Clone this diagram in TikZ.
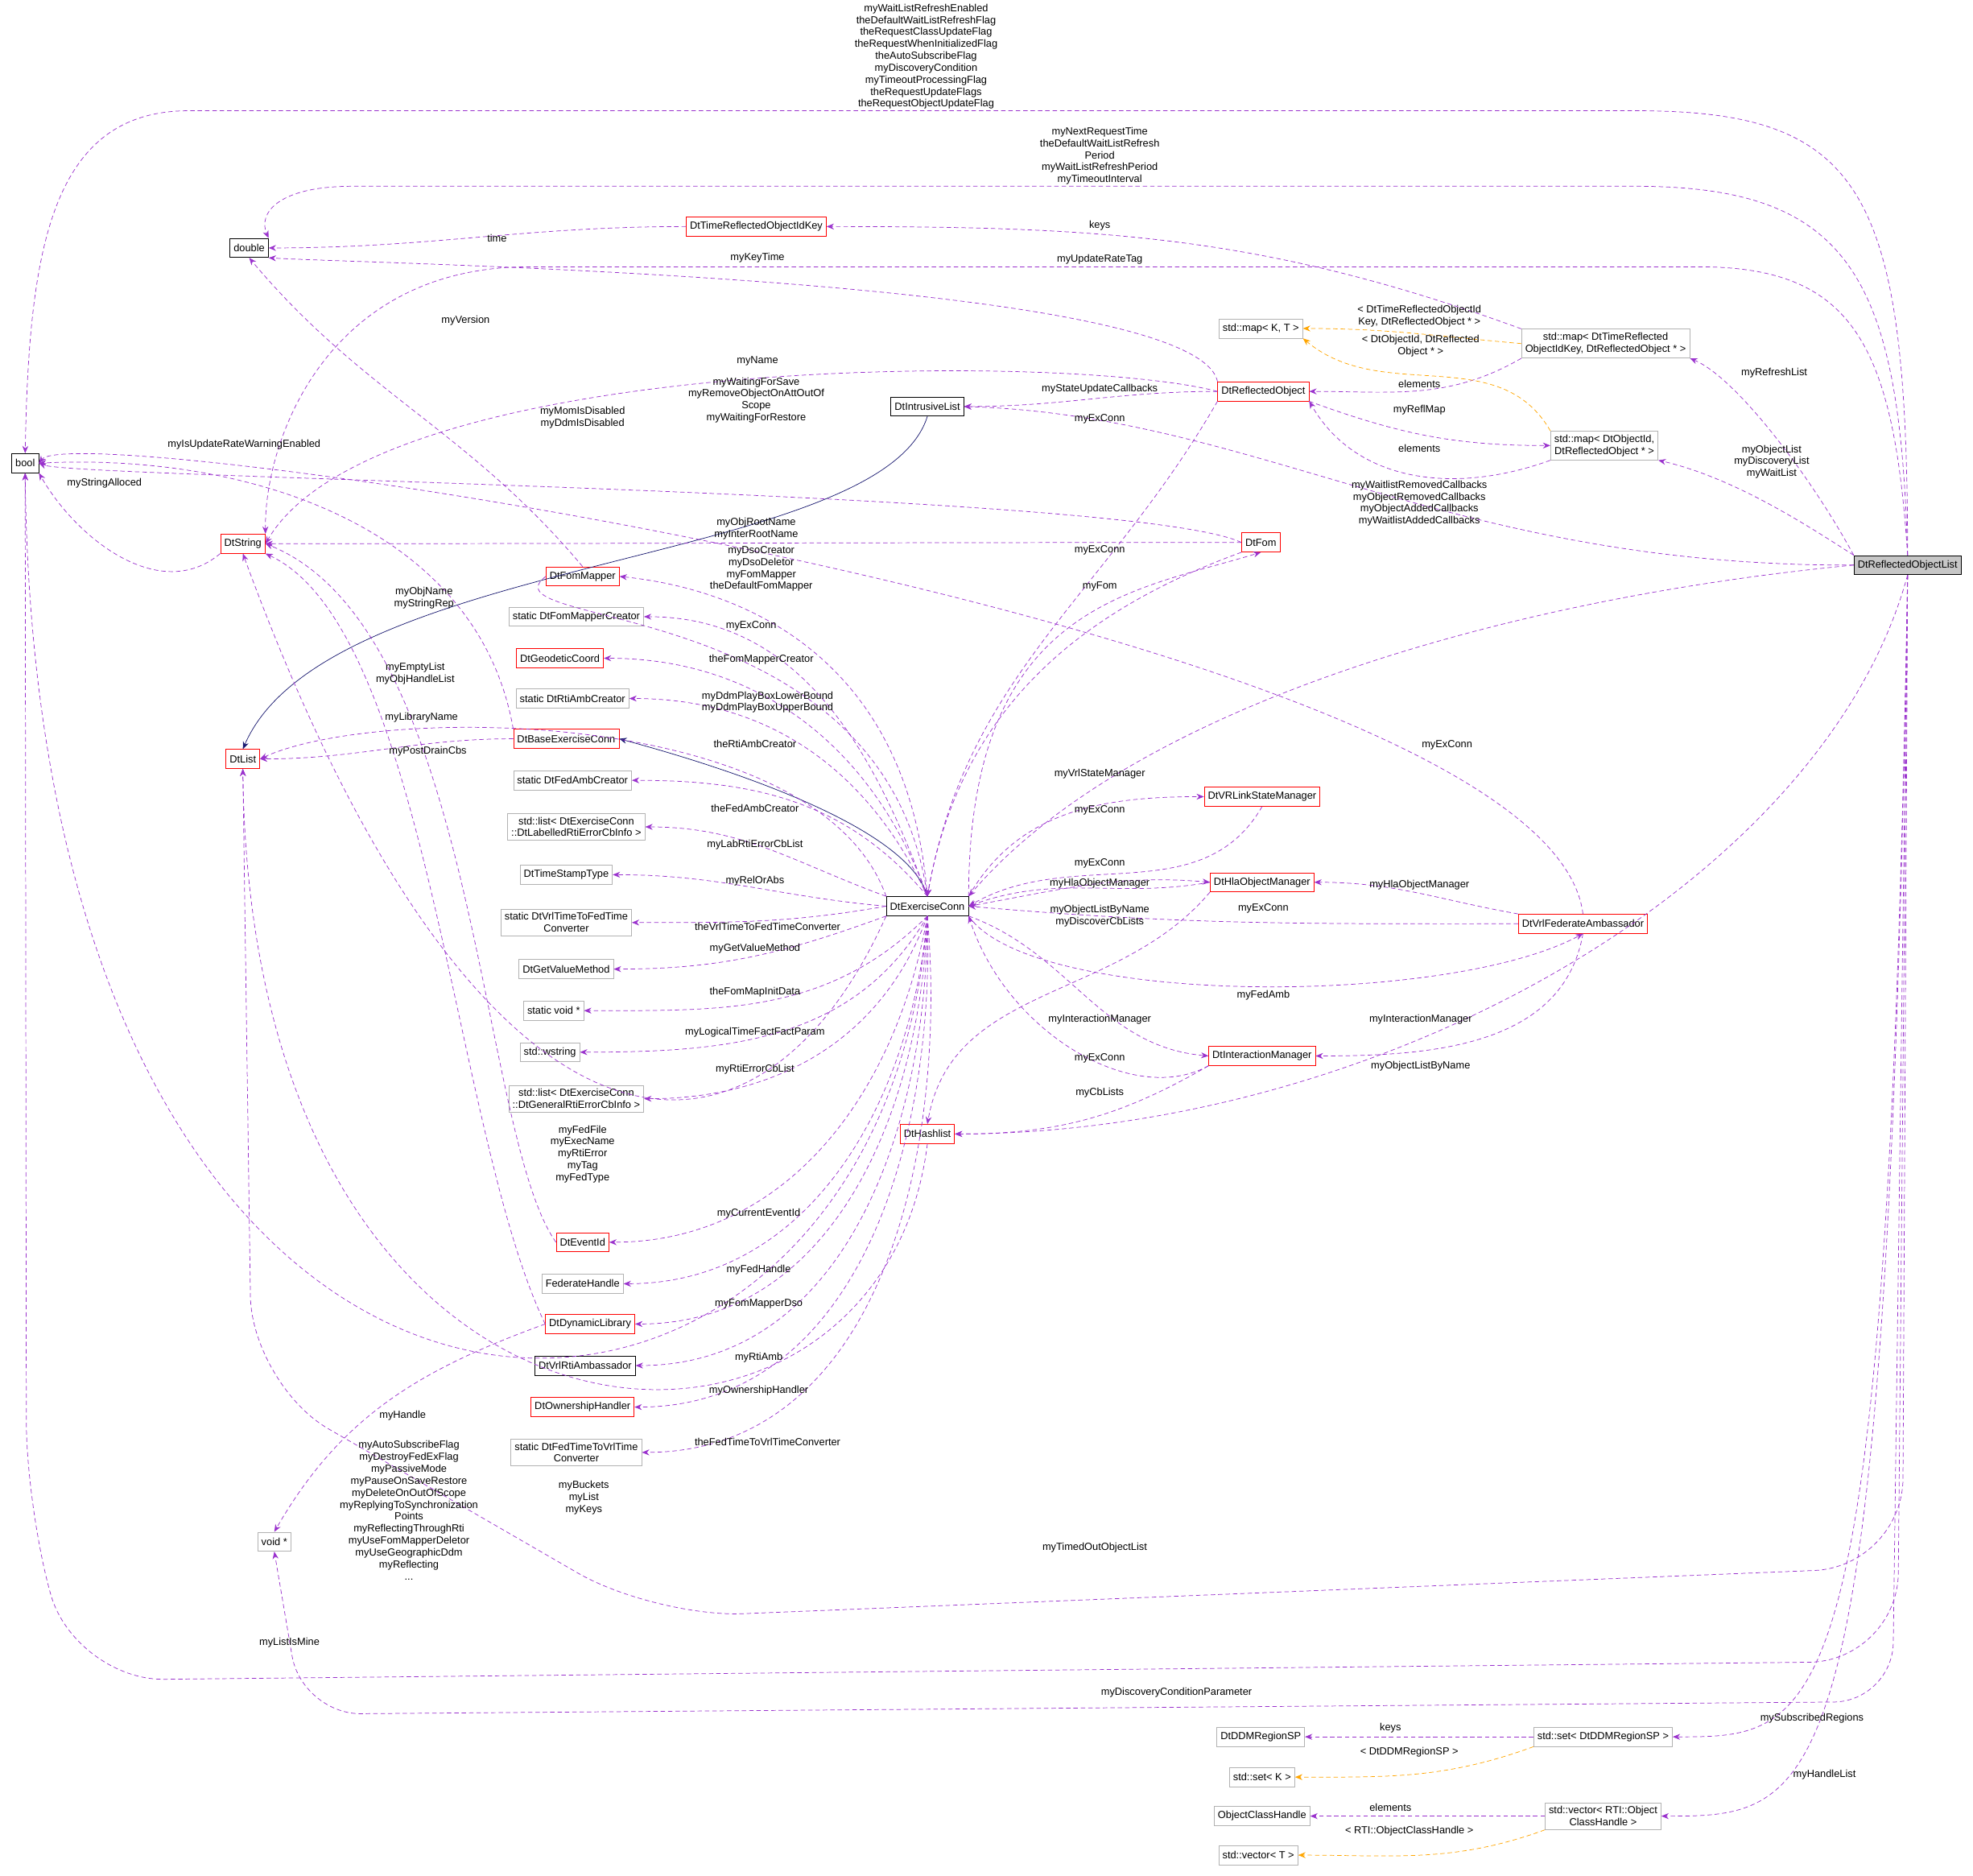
\documentclass[tikz,border=0pt]{standalone}
\usepackage{fontspec}
\setmainfont{Liberation Sans}
\usetikzlibrary{arrows.meta,positioning}
\definecolor{usecol}{HTML}{9A32CD}
\definecolor{tplcol}{HTML}{FFA500}
\definecolor{inhcol}{HTML}{191970}
\newcommand{\fs}{\fontsize{7}{8.1}\selectfont}
\tikzset{%
	cls/.style  = {draw=black, fill=white, font=\fs, minimum height=13pt, inner sep=2.5pt, align=center},
	rcls/.style = {cls, draw=red},
	gcls/.style = {cls, draw=gray!60},
	use/.style  = {densely dashed, usecol, -{Stealth[length=5pt,width=4pt]}},
	tpl/.style  = {densely dashed, tplcol, -{Stealth[length=5pt,width=4pt]}},
	inh/.style  = {inhcol, -{Stealth[length=5pt,width=4pt]}},
	lbl/.style  = {font=\fs, align=center, inner sep=0pt},
}
\begin{document}
\begin{tikzpicture}[x=0.03cm,y=-0.03cm]
	\useasboundingbox (0,0) rectangle (1568,1490);
	% classes
	\node[cls] (bool) at (20,368) {bool};
	\node[cls] (double) at (198,197) {double};
	\node[rcls] (tkey) at (601,180) {DtTimeReflectedObjectIdKey};
	\node[gcls] (mapkt) at (1002,261) {std::map< K, T >};
	\node[gcls] (maptr) at (1276,273) {std::map< DtTimeReflected\\ObjectIdKey, DtReflectedObject * >};
	\node[rcls] (robj) at (1004,311) {DtReflectedObject};
	\node[gcls] (mapoid) at (1275,354) {std::map< DtObjectId,\\DtReflectedObject * >};
	\node[cls] (ilist) at (737,323) {DtIntrusiveList};
	\node[cls, fill=gray!45] (rol) at (1516,449) {DtReflectedObjectList};
	\node[rcls] (str) at (193,432) {DtString};
	\node[rcls] (fom) at (1002,431) {DtFom};
	\node[rcls] (fmap) at (463,458) {DtFomMapper};
	\node[gcls] (fmc) at (458,490) {static DtFomMapperCreator};
	\node[rcls] (geo) at (445,523) {DtGeodeticCoord};
	\node[gcls] (rac) at (455,555) {static DtRtiAmbCreator};
	\node[rcls] (bec) at (450,587) {DtBaseExerciseConn};
	\node[gcls] (fac) at (455,620) {static DtFedAmbCreator};
	\node[gcls] (lab) at (458,657) {std::list< DtExerciseConn\\::DtLabelledRtiErrorCbInfo >};
	\node[gcls] (tst) at (450,695) {DtTimeStampType};
	\node[gcls] (v2f) at (450,733) {static DtVrlTimeToFedTime\\Converter};
	\node[gcls] (gvm) at (450,770) {DtGetValueMethod};
	\node[gcls] (svp) at (440,803) {static void *};
	\node[gcls] (wstr) at (437,836) {std::wstring};
	\node[gcls] (gen) at (458,873) {std::list< DtExerciseConn\\::DtGeneralRtiErrorCbInfo >};
	\node[rcls] (evid) at (463,987) {DtEventId};
	\node[gcls] (fedh) at (463,1020) {FederateHandle};
	\node[rcls] (dlib) at (469,1052) {DtDynamicLibrary};
	\node[cls] (vra) at (465,1085) {DtVrlRtiAmbassador};
	\node[rcls] (own) at (463,1118) {DtOwnershipHandler};
	\node[gcls] (f2v) at (458,1154) {static DtFedTimeToVrlTime\\Converter};
	\node[gcls] (voidp) at (218,1225) {void *};
	\node[rcls] (dlist) at (193,603) {DtList};
	\node[cls] (ec) at (737,720) {DtExerciseConn};
	\node[rcls] (vsm) at (1003,633) {DtVRLinkStateManager};
	\node[rcls] (hom) at (1003,701) {DtHlaObjectManager};
	\node[rcls] (vfa) at (1258,734) {DtVrlFederateAmbassador};
	\node[rcls] (im) at (1003,839) {DtInteractionManager};
	\node[rcls] (hash) at (737,901) {DtHashlist};
	\node[gcls] (ddm) at (1002,1380) {DtDDMRegionSP};
	\node[gcls] (setd) at (1274,1380) {std::set< DtDDMRegionSP >};
	\node[gcls] (setk) at (1003,1412) {std::set< K >};
	\node[gcls] (och) at (1003,1443) {ObjectClassHandle};
	\node[gcls] (vec) at (1274,1443) {std::vector< RTI::Object\\ClassHandle >};
	\node[gcls] (vect) at (1000,1474) {std::vector< T >};

	% inheritance
	\draw[inh] (ilist.south) .. controls (700,450) and (260,440) .. (dlist.north);
	\draw[inh] (ec.north) .. controls (720,650) and (540,600) .. (bec.east);

	% DtReflectedObjectList
	\draw[use] (rol.north) .. controls (1516,150) and (1480,88) .. (1300,88) -- (150,88) .. controls (40,88) and (23,200) .. (bool.north);
	\draw[use] (rol.north) .. controls (1510,220) and (1470,148) .. (1300,148) -- (280,148) .. controls (220,148) and (205,170) .. (double.north east);
	\draw[use] (rol.north) .. controls (1505,270) and (1470,212) .. (1350,212) -- (420,212) .. controls (260,212) and (210,350) .. (str.north east);
	\draw[use] (rol.north west) .. controls (1440,380) and (1380,300) .. (maptr.south east);
	\draw[use] (rol.north west) .. controls (1440,420) and (1380,380) .. (mapoid.south east);
	\draw[use] (rol.west) .. controls (1150,450) and (1000,330) .. (ilist.east);
	\draw[use] (rol.west) .. controls (1200,475) and (900,560) .. (ec.north east);
	\draw[use] (rol.south) .. controls (1450,700) and (1100,900) .. (hash.east);
	\draw[use, rounded corners=60] (rol.south) -- (1512,1245) -- (520,1285) -- (200,1100) -- (dlist.south);
	\draw[use, rounded corners=60] (rol.south) -- (1508,1320) -- (60,1335) -- (21,1200) -- (bool.south);
	\draw[use, rounded corners=40] (rol.south) -- (1504,1352) -- (240,1362) -- (voidp.south);
	\draw[use] (rol.south) .. controls (1500,1380) and (1450,1380) .. (setd.east);
	\draw[use] (rol.south) .. controls (1500,1440) and (1450,1443) .. (vec.east);

	% DtExerciseConn
	\draw[use] (ec.south) .. controls (700,1230) and (30,1260) .. (bool.south);
	\draw[use] (ec.south west) .. controls (600,960) and (380,950) .. (str.south);
	\draw[use] (ec.north) .. controls (720,500) and (560,465) .. (fmap.east);
	\draw[use] (ec.north) to[out=110,in=0] (fmc.east);
	\draw[use] (ec.north) to[out=110,in=0] (geo.east);
	\draw[use] (ec.north) to[out=115,in=0] (rac.east);
	\draw[use] (ec.north) to[out=130,in=0] (fac.east);
	\draw[use] (ec.north west) to[out=160,in=0] (lab.east);
	\draw[use] (ec.west) to[out=175,in=0] (tst.east);
	\draw[use] (ec.west) to[out=190,in=0] (v2f.east);
	\draw[use] (ec.south west) to[out=200,in=0] (gvm.east);
	\draw[use] (ec.south) to[out=225,in=0] (svp.east);
	\draw[use] (ec.south) to[out=240,in=0] (wstr.east);
	\draw[use] (ec.south) to[out=250,in=0] (gen.east);
	\draw[use] (ec.south) to[out=260,in=0] (evid.east);
	\draw[use] (ec.south) to[out=265,in=0] (fedh.east);
	\draw[use] (ec.south) to[out=268,in=0] (dlib.east);
	\draw[use] (ec.south) to[out=270,in=0] (vra.east);
	\draw[use] (ec.south) to[out=272,in=0] (own.east);
	\draw[use] (ec.south) to[out=275,in=0] (f2v.east);
	\draw[use] (ec.north east) to[out=60,in=180] (vsm.west);
	\draw[use] (ec.east) to[out=10,in=175] (hom.west);
	\draw[use] (ec.south east) .. controls (820,800) and (1150,800) .. (vfa.south);
	\draw[use] (ec.south east) to[out=-20,in=175] (im.west);
	\draw[use] (ec.north east) .. controls (770,480) and (900,470) .. (fom.south);
	\draw[use] (ec.north west) .. controls (650,560) and (300,560) .. (dlist.east);

	% into DtExerciseConn
	\draw[use] (fmap.west) .. controls (380,500) and (700,470) .. (ec.north);
	\draw[use] (fom.south west) to[out=200,in=80] (ec.north);
	\draw[use] (robj.south west) to[out=240,in=80] (ec.north);
	\draw[use] (vsm.south) to[out=240,in=30] (ec.east);
	\draw[use] (hom.west) to[out=190,in=20] (ec.east);
	\draw[use] (vfa.west) to[out=180,in=-5] (ec.east);
	\draw[use] (im.south west) .. controls (900,880) and (800,820) .. (ec.south east);

	% other uses
	\draw[use] (hom.south west) to[out=230,in=80] (hash.north);
	\draw[use] (im.south west) to[out=210,in=0] (hash.east);
	\draw[use] (vfa.north west) to[out=170,in=0] (hom.east);
	\draw[use] (vfa.south) to[out=260,in=0] (im.east);
	\draw[use] (vfa.north) .. controls (1230,500) and (60,330) .. (bool.east);
	\draw[use] (fom.west) .. controls (900,390) and (60,380) .. (bool.east);
	\draw[use] (fom.west) to[out=180,in=0] (str.east);
	\draw[use] (robj.west) .. controls (850,280) and (300,280) .. (str.east);
	\draw[use] (robj.north west) .. controls (950,220) and (300,210) .. (double.south east);
	\draw[use] (robj.west) to[out=180,in=0] (ilist.east);
	\draw[use] (tkey.west) to[out=180,in=0] (double.east);
	\draw[use] (fmap.north) to[out=130,in=-50] (double.south);
	\draw[use] (str.south west) to[out=220,in=-60] (bool.south east);
	\draw[use] (bec.north west) .. controls (380,420) and (200,360) .. (bool.east);
	\draw[use] (bec.west) to[out=180,in=0] (dlist.east);
	\draw[use] (evid.west) .. controls (380,900) and (380,500) .. (str.east);
	\draw[use] (dlib.west) .. controls (360,900) and (340,500) .. (str.south east);
	\draw[use] (hash.south) .. controls (700,1210) and (200,1200) .. (dlist.south);
	\draw[use] (dlib.west) to[out=200,in=60] (voidp.north);
	\draw[use] (maptr.north west) to[out=160,in=0] (tkey.east);
	\draw[use] (maptr.south west) to[out=210,in=0] (robj.east);
	\draw[tpl] (maptr.west) to[out=175,in=0] (mapkt.east);
	\draw[tpl] (mapoid.north west) to[out=120,in=-40] (mapkt.south east);
	\draw[use] (robj.south east) to[out=-20,in=180] (mapoid.west);
	\draw[use] (mapoid.south west) to[out=200,in=-60] (robj.south east);
	\draw[use] (setd.west) -- (ddm.east);
	\draw[tpl] (setd.south west) to[out=200,in=0] (setk.east);
	\draw[use] (vec.west) -- (och.east);
	\draw[tpl] (vec.south west) to[out=200,in=0] (vect.east);

	% labels
	\node[lbl] (l1) at (736,45) {myWaitListRefreshEnabled\\theDefaultWaitListRefreshFlag\\theRequestClassUpdateFlag\\theRequestWhenInitializedFlag\\theAutoSubscribeFlag\\myDiscoveryCondition\\myTimeoutProcessingFlag\\theRequestUpdateFlags\\theRequestObjectUpdateFlag};
	\node[lbl] (l2) at (874,124) {myNextRequestTime\\theDefaultWaitListRefresh\\Period\\myWaitListRefreshPeriod\\myTimeoutInterval};
	\node[lbl] (l3) at (874,206) {myUpdateRateTag};
	\node[lbl] (l4) at (1410,296) {myRefreshList};
	\node[lbl] (l5) at (1408,367) {myObjectList\\myDiscoveryList\\myWaitList};
	\node[lbl] (l6) at (1128,400) {myWaitlistRemovedCallbacks\\myObjectRemovedCallbacks\\myObjectAddedCallbacks\\myWaitlistAddedCallbacks};
	\node[lbl] (l7) at (1150,592) {myExConn};
	\node[lbl] (l8) at (1129,847) {myObjectListByName};
	\node[lbl] (l9) at (870,1230) {myTimedOutObjectList};
	\node[lbl] (l10) at (230,1305) {myListIsMine};
	\node[lbl] (l11) at (935,1345) {myDiscoveryConditionParameter};
	\node[lbl] (l12) at (1440,1365) {mySubscribedRegions};
	\node[lbl] (l13) at (1450,1410) {myHandleList};
	\node[lbl] (l14) at (325,1200) {myAutoSubscribeFlag\\myDestroyFedExFlag\\myPassiveMode\\myPauseOnSaveRestore\\myDeleteOnOutOfScope\\myReplyingToSynchronization\\Points\\myReflectingThroughRti\\myUseFomMapperDeletor\\myUseGeographicDdm\\myReflecting\\...};
	\node[lbl] (l15) at (463,917) {myFedFile\\myExecName\\myRtiError\\myTag\\myFedType};
	\node[lbl] (l16) at (605,452) {myDsoCreator\\myDsoDeletor\\myFomMapper\\theDefaultFomMapper};
	\node[lbl] (l75) at (597,497) {myExConn};
	\node[lbl] (l17) at (605,524) {theFomMapperCreator};
	\node[lbl] (l18) at (610,558) {myDdmPlayBoxLowerBound\\myDdmPlayBoxUpperBound};
	\node[lbl] (l19) at (600,591) {theRtiAmbCreator};
	\node[lbl] (l20) at (600,642) {theFedAmbCreator};
	\node[lbl] (l21) at (600,671) {myLabRtiErrorCbList};
	\node[lbl] (l22) at (600,700) {myRelOrAbs};
	\node[lbl] (l23) at (610,736) {theVrlTimeToFedTimeConverter};
	\node[lbl] (l24) at (600,754) {myGetValueMethod};
	\node[lbl] (l25) at (600,788) {theFomMapInitData};
	\node[lbl] (l26) at (600,820) {myLogicalTimeFactFactParam};
	\node[lbl] (l27) at (600,850) {myRtiErrorCbList};
	\node[lbl] (l28) at (603,964) {myCurrentEventId};
	\node[lbl] (l29) at (603,1009) {myFedHandle};
	\node[lbl] (l30) at (603,1036) {myFomMapperDso};
	\node[lbl] (l31) at (603,1079) {myRtiAmb};
	\node[lbl] (l32) at (603,1105) {myOwnershipHandler};
	\node[lbl] (l33) at (610,1146) {theFedTimeToVrlTimeConverter};
	\node[lbl] (l34) at (874,615) {myVrlStateManager};
	\node[lbl] (l35) at (874,702) {myHlaObjectManager};
	\node[lbl] (l36) at (1004,791) {myFedAmb};
	\node[lbl] (l37) at (874,810) {myInteractionManager};
	\node[lbl] (l38) at (874,466) {myFom};
	\node[lbl] (l39) at (330,535) {myEmptyList\\myObjHandleList};
	\node[lbl] (l40) at (340,597) {myPostDrainCbs};
	\node[lbl] (l41) at (194,353) {myIsUpdateRateWarningEnabled};
	\node[lbl] (l42) at (337,475) {myObjName\\myStringRep};
	\node[lbl] (l43) at (335,570) {myLibraryName};
	\node[lbl] (l44) at (874,437) {myExConn};
	\node[lbl] (l45) at (874,333) {myExConn};
	\node[lbl] (l46) at (874,644) {myExConn};
	\node[lbl] (l47) at (874,686) {myExConn};
	\node[lbl] (l48) at (1004,722) {myExConn};
	\node[lbl] (l49) at (874,841) {myExConn};
	\node[lbl] (l50) at (874,728) {myObjectListByName\\myDiscoverCbLists};
	\node[lbl] (l51) at (874,868) {myCbLists};
	\node[lbl] (l52) at (1128,703) {myHlaObjectManager};
	\node[lbl] (l53) at (1129,810) {myInteractionManager};
	\node[lbl] (l54) at (601,318) {myWaitingForSave\\myRemoveObjectOnAttOutOf\\Scope\\myWaitingForRestore};
	\node[lbl] (l55) at (463,332) {myMomIsDisabled\\myDdmIsDisabled};
	\node[lbl] (l56) at (601,420) {myObjRootName\\myInterRootName};
	\node[lbl] (l57) at (602,287) {myName};
	\node[lbl] (l58) at (602,205) {myKeyTime};
	\node[lbl] (l59) at (874,309) {myStateUpdateCallbacks};
	\node[lbl] (l60) at (395,189) {time};
	\node[lbl] (l61) at (370,255) {myVersion};
	\node[lbl] (l62) at (83,384) {myStringAlloced};
	\node[lbl] (l63) at (464,1190) {myBuckets\\myList\\myKeys};
	\node[lbl] (l64) at (320,1125) {myHandle};
	\node[lbl] (l65) at (874,179) {keys};
	\node[lbl] (l66) at (1128,305) {elements};
	\node[lbl] (l67) at (1128,251) {< DtTimeReflectedObjectId\\Key, DtReflectedObject * >};
	\node[lbl] (l68) at (1129,275) {< DtObjectId, DtReflected\\Object * >};
	\node[lbl] (l69) at (1128,326) {myReflMap};
	\node[lbl] (l70) at (1128,356) {elements};
	\node[lbl] (l71) at (1105,1373) {keys};
	\node[lbl] (l72) at (1120,1392) {< DtDDMRegionSP >};
	\node[lbl] (l73) at (1105,1436) {elements};
	\node[lbl] (l74) at (1120,1455) {< RTI::ObjectClassHandle >};
\end{tikzpicture}
\end{document}
